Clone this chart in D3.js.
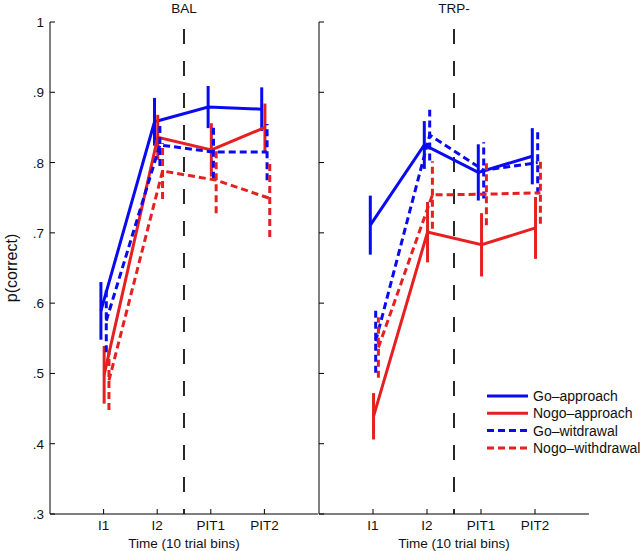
<!DOCTYPE html>
<html><head><meta charset="utf-8">
<script src="https://cdn.jsdelivr.net/npm/d3@7/dist/d3.min.js"></script>
<style>body{margin:0;background:#fff}svg{display:block}text{font-family:"Liberation Sans",Arial,sans-serif;fill:#111}</style>
</head><body><svg id="c" width="640" height="551"></svg>
<script>
const categories = ["I1", "I2", "PIT1", "PIT2"];
const panels = ["BAL", "TRP-"];
const seriesNames = ["Go\u2013approach", "Nogo\u2013approach", "Go\u2013witdrawal", "Nogo\u2013withdrawal"];
const yTicks = [0.3, 0.4, 0.5, 0.6, 0.7, 0.8, 0.9, 1.0];
const yTickLabels = [".3", ".4", ".5", ".6", ".7", ".8", ".9", "1"];

// BAL means and error half-widths
const balGoApproach = [0.589, 0.858, 0.879, 0.876];
const balGoApproachErr = [0.041, 0.034, 0.030, 0.031];
const balNogoApproach = [0.498, 0.836, 0.818, 0.850];
const balNogoApproachErr = [0.041, 0.032, 0.038, 0.034];
const balGoWithdrawal = [0.575, 0.825, 0.815, 0.815];
const balGoWithdrawalErr = [0.045, 0.030, 0.038, 0.040];
const balNogoWithdrawal = [0.490, 0.788, 0.775, 0.749];
const balNogoWithdrawalErr = [0.042, 0.040, 0.047, 0.055];

// TRP- means and error half-widths
const trpGoApproach = [0.711, 0.825, 0.786, 0.809];
const trpGoApproachErr = [0.042, 0.034, 0.040, 0.040];
const trpNogoApproach = [0.439, 0.701, 0.683, 0.707];
const trpNogoApproachErr = [0.033, 0.043, 0.045, 0.044];
const trpGoWithdrawal = [0.546, 0.839, 0.789, 0.800];
const trpGoWithdrawalErr = [0.045, 0.036, 0.040, 0.045];
const trpNogoWithdrawal = [0.537, 0.754, 0.755, 0.757];
const trpNogoWithdrawalErr = [0.043, 0.048, 0.044, 0.044];

const panelData = [
  [[balGoApproach, balGoApproachErr], [balNogoApproach, balNogoApproachErr], [balGoWithdrawal, balGoWithdrawalErr], [balNogoWithdrawal, balNogoWithdrawalErr]],
  [[trpGoApproach, trpGoApproachErr], [trpNogoApproach, trpNogoApproachErr], [trpGoWithdrawal, trpGoWithdrawalErr], [trpNogoWithdrawal, trpNogoWithdrawalErr]]
];

const BLUE = "#0a0af0", RED = "#e62020";
const styles = [
  {color: BLUE, dash: null, off: -0.05},
  {color: RED, dash: null, off: 0.01},
  {color: BLUE, dash: "7,4", off: 0.05},
  {color: RED, dash: "7,4", off: 0.1}
];

const svg = d3.select("#c");
const y = d3.scaleLinear().domain([0.3, 1]).range([514, 22]);
const panelRanges = [[50, 318], [319, 589]];

panelRanges.forEach((rng, pi) => {
  const x = d3.scaleLinear().domain([0, 5]).range(rng);
  const g = svg.append("g");
  g.append("line").attr("x1", rng[0]).attr("x2", rng[0]).attr("y1", y(1)).attr("y2", y(0.3)).attr("stroke", "#000").attr("stroke-width", 1);
  g.append("line").attr("x1", rng[0]).attr("x2", rng[1]).attr("y1", y(0.3)).attr("y2", y(0.3)).attr("stroke", "#000").attr("stroke-width", 1);
  g.selectAll(".yt").data(yTicks).enter().append("line")
    .attr("x1", rng[0]).attr("x2", rng[0] + 5).attr("y1", d => y(d)).attr("y2", d => y(d)).attr("stroke", "#000");
  if (pi === 0) {
    g.selectAll(".yl").data(yTicks).enter().append("text")
      .attr("x", rng[0] - 6).attr("y", d => y(d) + 5).attr("text-anchor", "end").attr("font-size", 13.5)
      .text((d, i) => yTickLabels[i]);
  }
  g.selectAll(".xt").data(categories).enter().append("line")
    .attr("x1", (d, i) => x(i + 1)).attr("x2", (d, i) => x(i + 1)).attr("y1", y(0.3)).attr("y2", y(0.3) - 5).attr("stroke", "#000");
  g.selectAll(".xl").data(categories).enter().append("text")
    .attr("x", (d, i) => x(i + 1)).attr("y", 530).attr("text-anchor", "middle").attr("font-size", 13.5).text(d => d);
  g.append("text").attr("x", x(2.5)).attr("y", 548).attr("text-anchor", "middle").attr("font-size", 13.5).text("Time (10 trial bins)");
  g.append("text").attr("x", x(2.5)).attr("y", 13).attr("text-anchor", "middle").attr("font-size", 13.5).text(panels[pi]);
  g.append("line").attr("x1", x(2.5)).attr("x2", x(2.5)).attr("y1", y(0.99)).attr("y2", y(0.3))
    .attr("stroke", "#111").attr("stroke-width", 1.8).attr("stroke-dasharray", "15,17");

  panelData[pi].forEach((s, si) => {
    const st = styles[si];
    const means = s[0], errs = s[1];
    const pts = means.map((m, i) => ({xv: i + 1 + st.off, m: m, e: errs[i]}));
    g.selectAll(".eb" + si).data(pts).enter().append("line")
      .attr("x1", d => x(d.xv)).attr("x2", d => x(d.xv))
      .attr("y1", d => y(d.m - d.e)).attr("y2", d => y(d.m + d.e))
      .attr("stroke", st.color).attr("stroke-width", 3).attr("stroke-dasharray", st.dash);
    g.append("path").datum(pts)
      .attr("d", d3.line().x(d => x(d.xv)).y(d => y(d.m)))
      .attr("fill", "none").attr("stroke", st.color).attr("stroke-width", 3)
      .attr("stroke-dasharray", st.dash);
  });
});

svg.append("text").attr("transform", "translate(17,268) rotate(-90)").attr("text-anchor", "middle")
  .attr("font-size", 16).text("p(correct)");

const lg = svg.append("g");
seriesNames.forEach((n, i) => {
  const yy = 396 + i * 17.3;
  lg.append("line").attr("x1", 487).attr("x2", 528).attr("y1", yy).attr("y2", yy)
    .attr("stroke", styles[i].color).attr("stroke-width", 3).attr("stroke-dasharray", styles[i].dash);
  lg.append("text").attr("x", 533).attr("y", yy + 5).attr("font-size", 14).text(n);
});
</script></body></html>
